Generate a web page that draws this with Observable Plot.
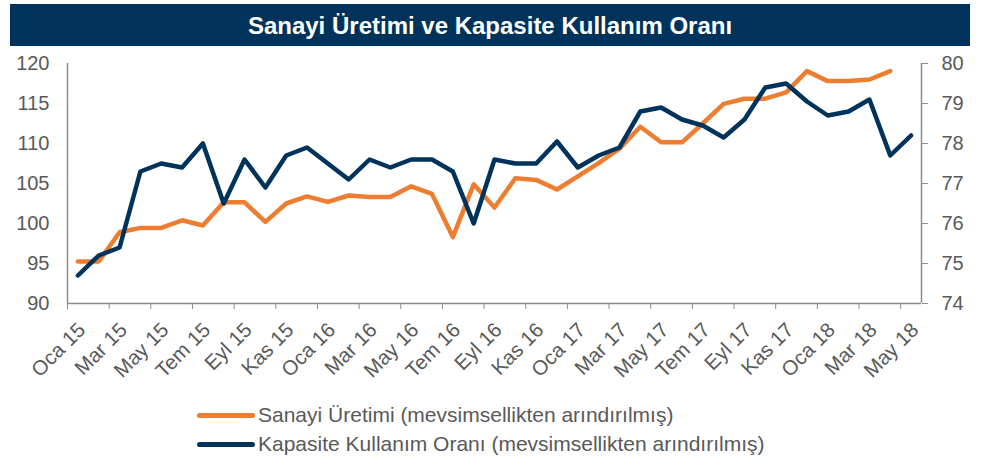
<!DOCTYPE html>
<html>
<head>
<meta charset="utf-8">
<script src="https://cdn.jsdelivr.net/npm/d3@7"></script>
<script src="https://cdn.jsdelivr.net/npm/@observablehq/plot@0.6"></script>
<style>
  html, body { margin: 0; padding: 0; background: #fff; }
  #wrap { position: relative; width: 986px; height: 460px; font-family: "Liberation Sans", Arial, sans-serif; }
  #title { position: absolute; left: 10px; top: 4px; width: 960px; height: 42px; background: #00335b; color: #fff;
           font-weight: bold; font-size: 24px; line-height: 43px; text-align: center; }
  #chart { position: absolute; left: 0; top: 46px; }
  .leg { position: absolute; left: 197px; height: 30px; display: flex; align-items: center; color: #595959; font-size: 21px; white-space: nowrap; }
  .leg .sw { width: 58px; height: 5px; border-radius: 3px; margin-right: 3px; }
</style>
</head>
<body>
<div id="wrap">
  <div id="title">Sanayi Üretimi ve Kapasite Kullanım Oranı</div>
  <div id="chart"></div>
  <div class="leg" style="top:400px"><div class="sw" style="background:#ed7d31"></div><span>Sanayi Üretimi (mevsimsellikten arındırılmış)</span></div>
  <div class="leg" style="top:429px"><div class="sw" style="background:#00335b"></div><span>Kapasite Kullanım Oranı (mevsimsellikten arındırılmış)</span></div>
</div>
<script>
// Months, Jan 2015 - May 2018
const categories = [
  "Oca 15","Şub 15","Mar 15","Nis 15","May 15","Haz 15","Tem 15","Ağu 15","Eyl 15","Eki 15","Kas 15","Ara 15",
  "Oca 16","Şub 16","Mar 16","Nis 16","May 16","Haz 16","Tem 16","Ağu 16","Eyl 16","Eki 16","Kas 16","Ara 16",
  "Oca 17","Şub 17","Mar 17","Nis 17","May 17","Haz 17","Tem 17","Ağu 17","Eyl 17","Eki 17","Kas 17","Ara 17",
  "Oca 18","Şub 18","Mar 18","Nis 18","May 18"
];
// Sanayi Üretimi (left axis), Jan 2015 - Apr 2018
const sanayi = [
  95.25, 95.25, 98.9, 99.45, 99.45, 100.4, 99.75, 102.65, 102.65, 100.2, 102.5, 103.4,
  102.7, 103.5, 103.3, 103.3, 104.65, 103.7, 98.3, 104.9, 102.0, 105.65, 105.45, 104.25,
  105.9, 107.55, 109.35, 112.1, 110.15, 110.15, 112.5, 114.95, 115.6, 115.6, 116.4, 119.05,
  117.8, 117.8, 118.0, 119.05
];
// Kapasite Kullanım Oranı (right axis), Jan 2015 - May 2018
const kko = [
  74.7, 75.2, 75.4, 77.3, 77.5, 77.4, 78.0, 76.5, 77.6, 76.9, 77.7, 77.9,
  77.5, 77.1, 77.6, 77.4, 77.6, 77.6, 77.3, 76.0, 77.6, 77.5, 77.5, 78.05,
  77.4, 77.7, 77.9, 78.8, 78.9, 78.6, 78.45, 78.15, 78.6, 79.4, 79.5, 79.05,
  78.7, 78.8, 79.1, 77.7, 78.2
];
const xTickLabels = ["Oca 15","Mar 15","May 15","Tem 15","Eyl 15","Kas 15","Oca 16","Mar 16","May 16","Tem 16","Eyl 16","Kas 16",
  "Oca 17","Mar 17","May 17","Tem 17","Eyl 17","Kas 17","Oca 18","Mar 18","May 18"];
const leftTicks = [90, 95, 100, 105, 110, 115, 120];
const rightTicks = [74, 75, 76, 77, 78, 79, 80];

const ORANGE = "#ed7d31", NAVY = "#00335b", GRAY = "#8c8c8c", TEXT = "#595959";
// map right-axis values onto the left scale
const toLeft = v => 90 + (v - 74) * 5;
const fromLeft = d => 74 + (d - 90) / 5;
const catIndex = c => categories.indexOf(c);

const boundaries = xTickLabels.map(l => catIndex(l));

const chart = Plot.plot({
  width: 986,
  height: 350,
  marginLeft: 67,
  marginRight: 65,
  marginTop: 17,
  marginBottom: 93,
  style: { fontFamily: "Liberation Sans, Arial, sans-serif", color: TEXT, background: "transparent" },
  x: { type: "linear", domain: [0, categories.length], axis: null },
  y: { domain: [90, 120], axis: null },
  marks: [
    Plot.axisY({ anchor: "left", ticks: leftTicks, tickSize: 0, tickPadding: 18, fontSize: 20, fill: TEXT, tickFormat: d => String(d) }),
    Plot.axisY({ anchor: "right", ticks: rightTicks.map(toLeft), tickSize: 6, tickPadding: 14, fontSize: 20, fill: TEXT, stroke: GRAY,
                 tickFormat: d => String(Math.round(fromLeft(d))) }),
    Plot.axisX({ anchor: "bottom", ticks: boundaries, tickSize: 6, stroke: GRAY, tickFormat: () => "" }),
    Plot.ruleY([90], { stroke: GRAY, strokeWidth: 1.5 }),
    Plot.ruleX([0, categories.length], { stroke: GRAY, strokeWidth: 1.5 }),
    Plot.text(xTickLabels, {
      x: d => catIndex(d) + 0.5, y: () => 90, text: d => d,
      rotate: -45, textAnchor: "end", dx: 4, dy: 23, fontSize: 20.5, fill: TEXT
    }),
    Plot.line(sanayi, { x: (d, i) => i + 0.5, y: d => d, stroke: ORANGE, strokeWidth: 4.5 }),
    Plot.line(kko, { x: (d, i) => i + 0.5, y: d => toLeft(d), stroke: NAVY, strokeWidth: 4.5 })
  ]
});
document.getElementById("chart").append(chart);
</script>
</body>
</html>
